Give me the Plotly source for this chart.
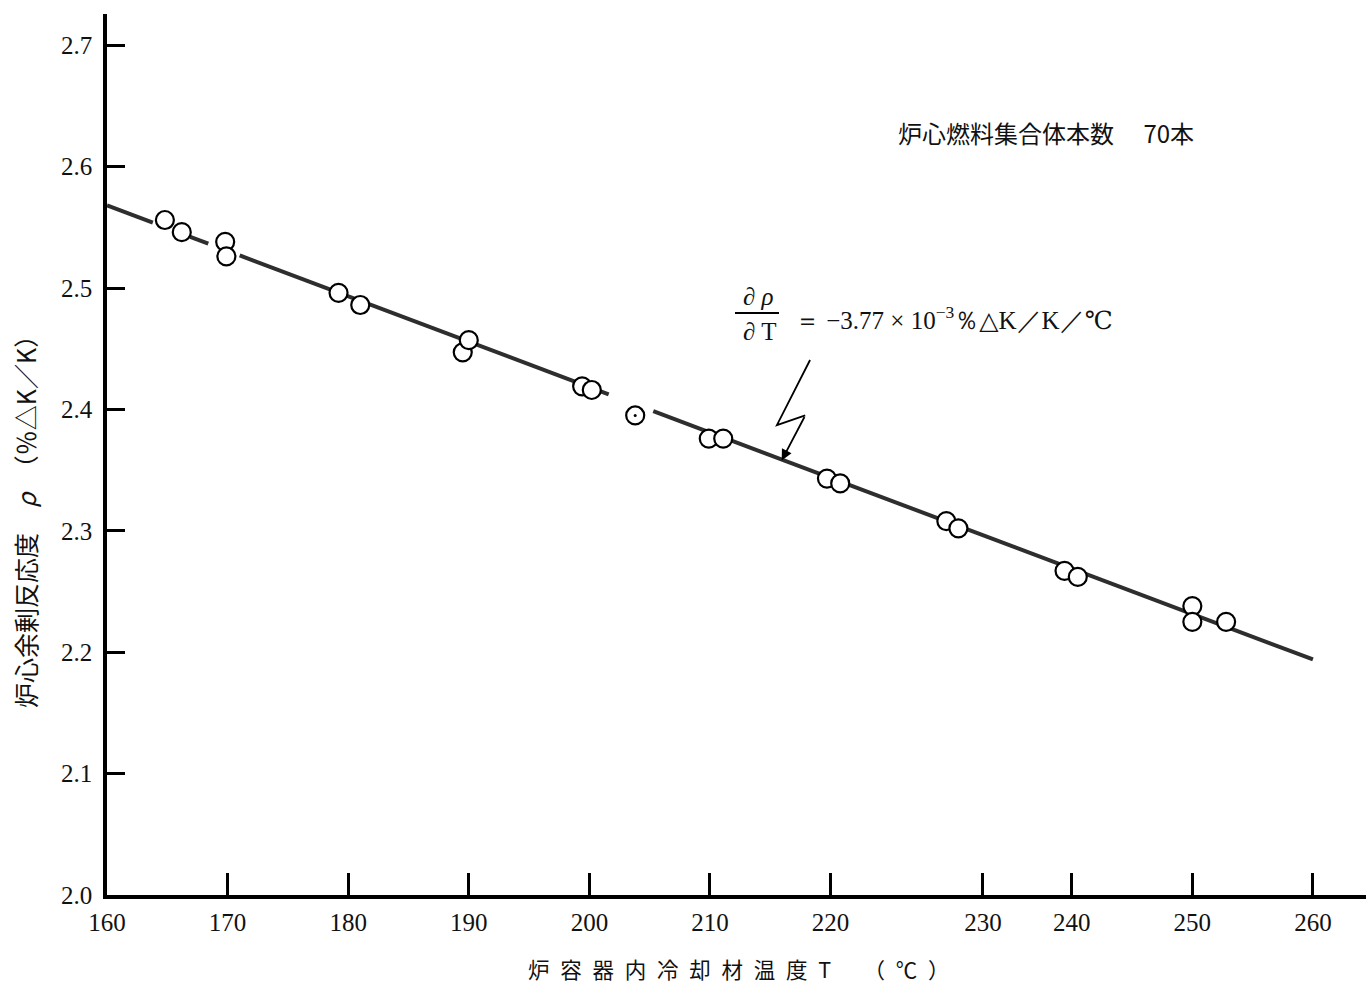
import plotly.graph_objects as go

# ---- data ----
temp = [164.8, 166.2, 169.8, 169.9, 179.2, 181.0, 189.5, 190.0, 199.4, 200.2,
        203.8, 209.9, 211.1, 219.7, 220.8, 229.6, 230.6, 239.4, 240.5, 250.0,
        250.0, 252.8]
rho = [2.556, 2.546, 2.538, 2.526, 2.496, 2.486, 2.447, 2.457, 2.419, 2.416,
       2.395, 2.376, 2.376, 2.343, 2.339, 2.308, 2.302, 2.267, 2.262, 2.238,
       2.225, 2.225]
dot_temp = [203.8]
dot_rho = [2.395]

# fitted line (drawn with small breaks as in the original)
fit_x = [160.0, 163.8, None, 166.9, 168.4, None, 171.0, 201.6, None, 205.3, 260.0]
fit_y0, fit_slope = 2.568, -0.00374
fit_y = [None if v is None else fit_y0 + fit_slope * (v - 160.0) for v in fit_x]

x_tickvals = [160, 170, 180, 190, 200, 210, 220, 232.64, 240, 250, 260]
x_ticktext = ["160", "170", "180", "190", "200", "210", "220", "230", "240", "250", "260"]
y_tickvals = [2.0, 2.1, 2.2, 2.3, 2.4, 2.5, 2.6, 2.7]
y_ticktext = ["2.0", "2.1", "2.2", "2.3", "2.4", "2.5", "2.6", "2.7"]

SERIF = "Liberation Serif, DejaVu Serif, serif"
CJK = "Noto Sans CJK JP, Noto Sans, sans-serif"

fig = go.Figure()
fig.add_trace(go.Scatter(x=fit_x, y=fit_y, mode="lines",
                         line=dict(color="#2e2e2e", width=4), connectgaps=False,
                         hoverinfo="skip", showlegend=False))
fig.add_trace(go.Scatter(x=temp, y=rho, mode="markers",
                         marker=dict(symbol="circle", size=18, color="white",
                                     line=dict(color="black", width=2.2)),
                         showlegend=False))
fig.add_trace(go.Scatter(x=dot_temp, y=dot_rho, mode="markers",
                         marker=dict(symbol="circle", size=3, color="black"),
                         showlegend=False))

fig.update_layout(
    width=1366, height=984,
    margin=dict(l=107, r=0, t=14, b=89),
    paper_bgcolor="white", plot_bgcolor="white",
    xaxis=dict(range=[160, 264.4], tickvals=x_tickvals, ticktext=x_ticktext,
               ticks="inside", ticklen=22, tickwidth=2.5, tickcolor="black",
               showline=True, linecolor="black", linewidth=3.5, showgrid=False,
               zeroline=False, tickfont=dict(family=SERIF, size=25, color="#111"),
               ticklabelstandoff=2),
    yaxis=dict(range=[2.0, 2.7257], tickvals=y_tickvals, ticktext=y_ticktext,
               ticks="inside", ticklen=18, tickwidth=3, tickcolor="black",
               showline=True, linecolor="black", linewidth=3.5, showgrid=False,
               zeroline=False, tickfont=dict(family=SERIF, size=25, color="#111"),
               ticklabelstandoff=6),
)

# axis titles
fig.add_annotation(xref="paper", yref="paper", x=(738 - 107) / 1259, y=(895 - 968) / 881,
                   xanchor="center", yanchor="middle", showarrow=False,
                   text="炉\u2002容\u2002器\u2002内\u2002冷\u2002却\u2002材\u2002温\u2002度\u2002T\u3000\u3000（\u2002℃\u2002）",
                   font=dict(family=CJK, size=21.5, color="#111"))
fig.add_annotation(xref="paper", yref="paper", x=(25 - 107) / 1259, y=(895 - 516) / 881,
                   xanchor="center", yanchor="middle", showarrow=False, textangle=-90,
                   text="炉心余剰反応度\u3000<i>ρ</i>\u3000（％△K／K）",
                   font=dict(family=CJK, size=25, color="#111"))

# top-right note
fig.add_annotation(xref="paper", yref="paper", x=(1046 - 107) / 1259, y=(895 - 133) / 881,
                   xanchor="center", yanchor="middle", showarrow=False,
                   text="炉心燃料集合体本数\u3000 70本",
                   font=dict(family=CJK, size=24, color="#111"))

# slope equation
fig.add_annotation(xref="paper", yref="paper", x=(758 - 107) / 1259, y=(895 - 297) / 881,
                   xanchor="center", yanchor="middle", showarrow=False, text="∂ <i>ρ</i>",
                   font=dict(family=SERIF, size=25, color="#111"))
fig.add_annotation(xref="paper", yref="paper", x=(759 - 107) / 1259, y=(895 - 331) / 881,
                   xanchor="center", yanchor="middle", showarrow=False, text="∂ T",
                   font=dict(family=SERIF, size=25, color="#111"))
fig.add_shape(type="line", xref="paper", yref="paper",
              x0=(735 - 107) / 1259, x1=(779 - 107) / 1259,
              y0=(895 - 313) / 881, y1=(895 - 313) / 881,
              line=dict(color="black", width=1.8))
fig.add_annotation(xref="paper", yref="paper", x=(793 - 107) / 1259, y=(895 - 318) / 881,
                   xanchor="left", yanchor="middle", showarrow=False,
                   text="＝ −3.77 × 10<sup>−3</sup>％△K／K／℃",
                   font=dict(family=SERIF, size=25, color="#111"))

# zig-zag pointer
fig.add_shape(type="path", xref="x", yref="y",
              path="M 218.3 2.4407 L 215.55 2.387 L 217.9 2.395",
              line=dict(color="black", width=1.8))
fig.add_annotation(xref="x", yref="y", x=215.95, y=2.358, ax=217.9, ay=2.395,
                   axref="x", ayref="y", showarrow=True, arrowhead=2,
                   arrowsize=1.2, arrowwidth=1.8, arrowcolor="black", text="")

fig.write_html("out.html")
